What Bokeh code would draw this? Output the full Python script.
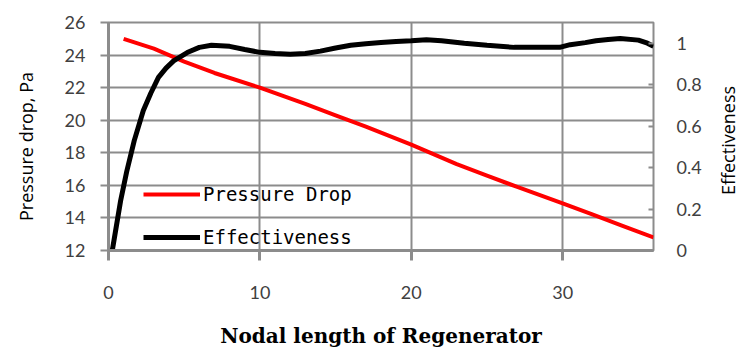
import math
from bokeh.plotting import figure
from bokeh.layouts import row
from bokeh.models import Range1d, LinearAxis, FixedTicker, Legend, LegendItem, Label
from bokeh.embed import file_html
from bokeh.resources import INLINE

# ---- data ----
pd_x = [1, 3, 5, 7, 10, 13, 15, 17, 20, 23, 25, 27, 30, 32, 34, 36]
pd_y = [25.0, 24.4, 23.6, 22.9, 22.0, 21.0, 20.3, 19.6, 18.5, 17.3, 16.6, 15.9, 14.9, 14.2, 13.5, 12.8]

eff_x = [0.25, 0.8, 1.2, 1.7, 2.3, 2.8, 3.3, 3.8, 4.3, 5.2, 6.0, 6.8, 8, 9, 10, 11, 12, 13, 14, 15,
         16, 17, 18, 19, 20, 21, 22, 23.5, 25, 26.8, 28, 29.8, 30.5, 31.5, 32.2, 33, 33.8, 35, 35.6, 36]
eff_y = [0.0, 0.24, 0.38, 0.53, 0.675, 0.76, 0.835, 0.88, 0.915, 0.955, 0.98, 0.99, 0.985, 0.97, 0.956,
         0.95, 0.947, 0.95, 0.962, 0.977, 0.99, 0.998, 1.003, 1.008, 1.012, 1.017, 1.012, 1.0, 0.99,
         0.98, 0.98, 0.98, 0.993, 1.003, 1.012, 1.018, 1.023, 1.015, 1.0, 0.985]

x_ticks = [0, 10, 20, 30]
left_ticks = [12, 14, 16, 18, 20, 22, 24, 26]
right_ticks = [0, 0.2, 0.4, 0.6, 0.8, 1.0]
right_labels = {0: "0", 0.2: "0.2", 0.4: "0.4", 0.6: "0.6", 0.8: "0.8", 1.0: "1"}

x_title = "Nodal length of Regenerator"
left_title = "Pressure drop, Pa"
right_title = "Effectiveness"

GRID = "#8c8c8c"
TICK_FONT = "Lato"
TITLE_FONT = "Open Sans"
TXT = "#404040"
W, H = 748, 352
SIDE = 40
F_TOP, F_BOTTOM = 22, 250   # frame edges in page pixels

p = figure(width=W - 2 * SIDE, height=H, output_backend="svg", toolbar_location=None,
           x_range=Range1d(0, 36), y_range=Range1d(12, 26),
           min_border_left=108 - SIDE, min_border_right=95 - SIDE,
           min_border_top=F_TOP, min_border_bottom=H - F_BOTTOM)
p.extra_y_ranges = {"eff": Range1d(0, 1.1)}

p.outline_line_color = GRID
p.outline_line_width = 2
p.background_fill_color = "white"
p.border_fill_color = "white"

# grids
p.xgrid.ticker = FixedTicker(ticks=x_ticks)
p.ygrid.ticker = FixedTicker(ticks=left_ticks)
for g in (p.xgrid, p.ygrid):
    g.grid_line_color = GRID
    g.grid_line_width = 2

# bottom axis
xa = p.xaxis[0]
xa.ticker = FixedTicker(ticks=x_ticks)
xa.axis_line_color = GRID
xa.axis_line_width = 3
xa.major_tick_line_color = GRID
xa.major_tick_line_width = 3
xa.major_tick_out = 10
xa.major_tick_in = 0
xa.minor_tick_line_color = None
xa.major_label_text_font = TICK_FONT
xa.major_label_text_font_size = "18px"
xa.major_label_text_color = TXT
xa.major_label_standoff = 25
xa.axis_label = x_title
xa.axis_label_text_font = "DejaVu Serif"
xa.axis_label_text_font_style = "bold"
xa.axis_label_text_font_size = "20px"
xa.axis_label_text_color = "black"
xa.axis_label_standoff = 22

# left axis
ya = p.yaxis[0]
ya.ticker = FixedTicker(ticks=left_ticks)
ya.axis_line_color = GRID
ya.axis_line_width = 3
ya.major_tick_line_color = GRID
ya.major_tick_line_width = 2
ya.major_tick_out = 8
ya.major_tick_in = 0
ya.minor_tick_line_color = None
ya.major_label_text_font = TICK_FONT
ya.major_label_text_font_size = "18px"
ya.major_label_text_color = TXT
ya.major_label_standoff = 15

# right axis
ra = LinearAxis(y_range_name="eff", ticker=FixedTicker(ticks=right_ticks))
ra.major_label_overrides = right_labels
ra.axis_line_color = None
ra.major_tick_line_color = GRID
ra.major_tick_line_width = 2
ra.major_tick_in = 5
ra.major_tick_out = 0
ra.minor_tick_line_color = None
ra.major_label_text_font = TICK_FONT
ra.major_label_text_font_size = "18px"
ra.major_label_text_color = TXT
ra.major_label_standoff = 23
p.add_layout(ra, "right")

r_pd = p.line(pd_x, pd_y, line_color="#ff0000", line_width=4)
r_eff = p.line(eff_x, eff_y, line_color="black", line_width=5, y_range_name="eff")

legend = Legend(items=[LegendItem(label="Pressure Drop", renderers=[r_pd]),
                       LegendItem(label="Effectiveness", renderers=[r_eff])],
                location=(35, 2), orientation="vertical",
                background_fill_alpha=0, border_line_color=None,
                padding=0, margin=0, spacing=21,
                glyph_width=57, glyph_height=20, label_height=20, label_standoff=3,
                label_text_font="DejaVu Sans Mono", label_text_font_size="19px",
                label_text_color="black")
p.add_layout(legend, "center")


# narrow side strips carrying the vertical axis titles (both read bottom-to-top).
# In a row Bokeh aligns the frames, so the strip's frame spans the same rows as the main frame;
# its y range is expressed as "pixels from the page bottom".
def side_strip(text, cx, cy_from_top):
    s = figure(width=SIDE, height=H, output_backend="svg", toolbar_location=None,
               x_range=Range1d(0, SIDE), y_range=Range1d(H - F_BOTTOM, H - F_TOP),
               x_axis_type=None, y_axis_type=None,
               min_border=0, min_border_left=0, min_border_right=0,
               min_border_top=F_TOP, min_border_bottom=H - F_BOTTOM)
    s.grid.visible = False
    s.outline_line_color = None
    s.background_fill_color = "white"
    s.border_fill_color = "white"
    s.add_layout(Label(x=cx, y=H - cy_from_top, text=text, angle=math.pi / 2,
                       text_align="center", text_baseline="middle",
                       text_font=TITLE_FONT, text_font_size="18px", text_color="black"))
    return s


left_strip = side_strip(left_title, 25, 146)
right_strip = side_strip(right_title, 727 - (W - SIDE), 140)

layout = row(left_strip, p, right_strip, spacing=0)
open("out.html", "w").write(file_html(layout, INLINE))
